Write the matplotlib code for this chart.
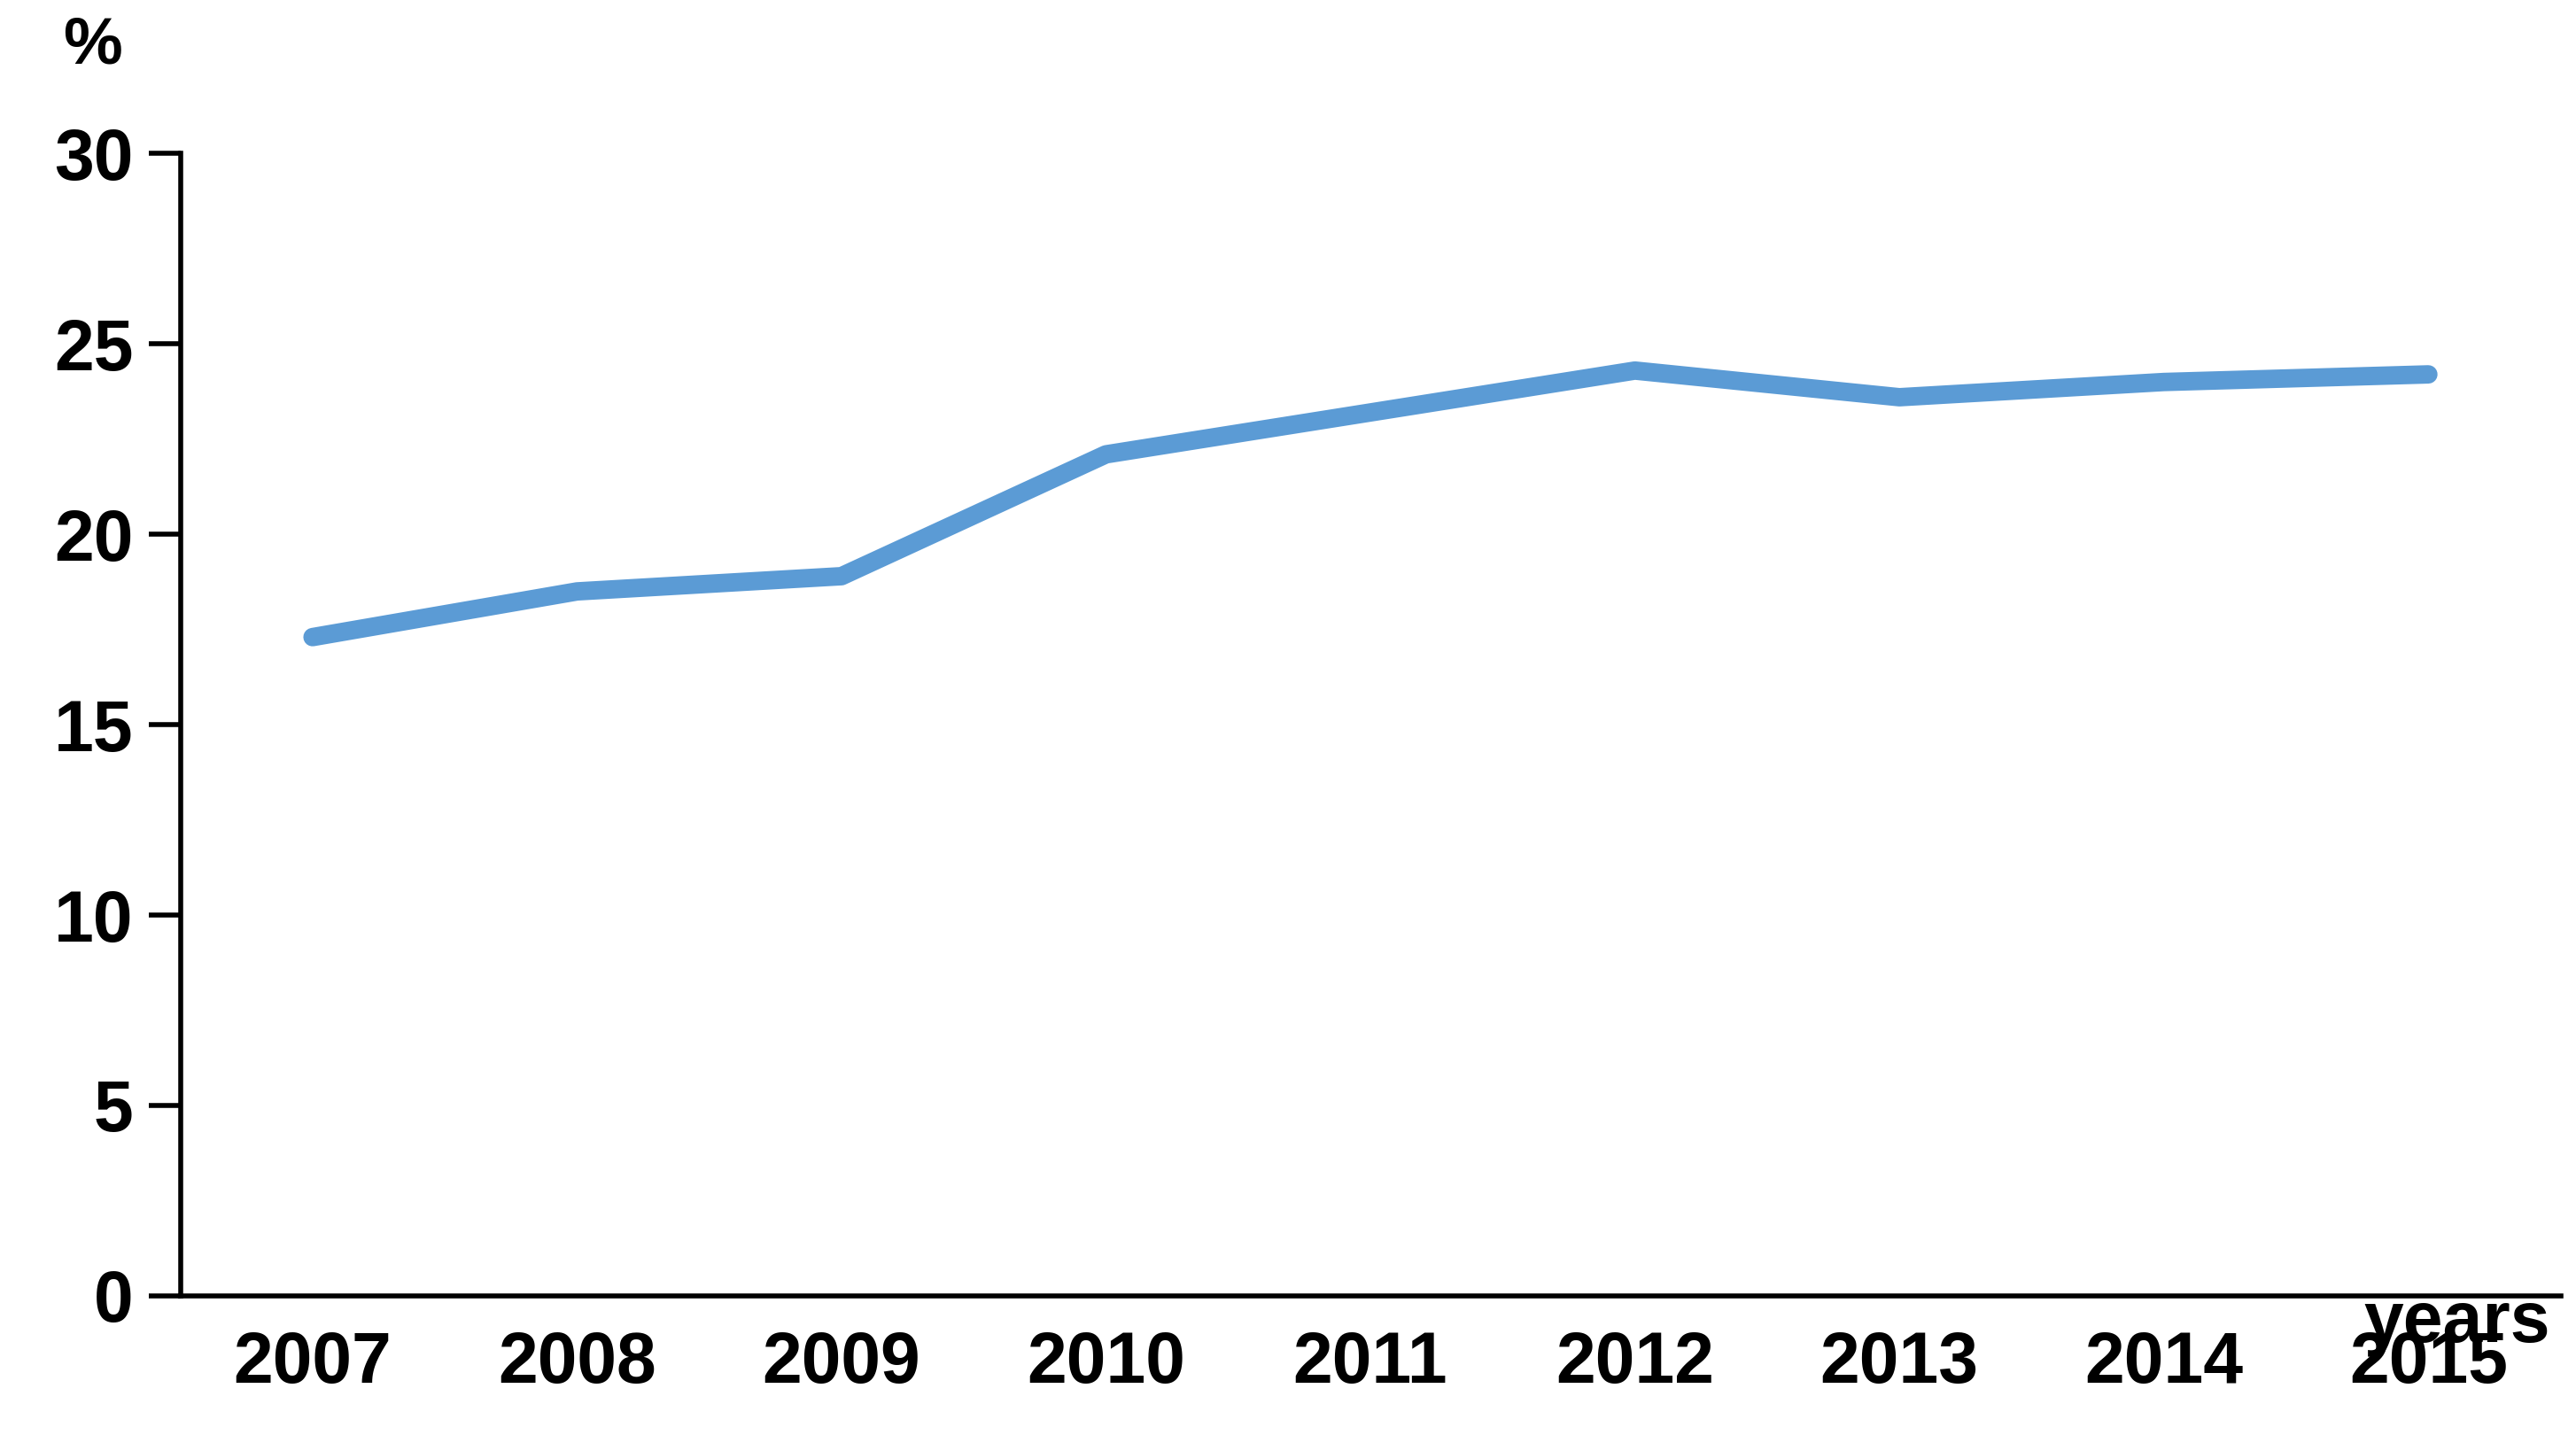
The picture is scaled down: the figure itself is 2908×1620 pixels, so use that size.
import matplotlib
matplotlib.use("Agg")
import matplotlib.pyplot as plt

years = ["2007", "2008", "2009", "2010", "2011", "2012", "2013", "2014", "2015"]
values = [17.3, 18.5, 18.9, 22.1, 23.2, 24.3, 23.6, 24.0, 24.2]
yticks = [0, 5, 10, 15, 20, 25, 30]

plt.rcParams['font.family'] = ['Liberation Sans', 'DejaVu Sans']
fig = plt.figure(figsize=(29.08, 16.2), dpi=100)
ax = fig.add_axes([0.070, 0.097, 0.924, 0.796])
x = list(range(len(years)))
ax.plot(x, values, color="#5B9BD5", lw=15, solid_capstyle="round", solid_joinstyle="round")
ax.set_xlim(-0.5, 8.5)
ax.set_ylim(0, 30)
ax.set_yticks(yticks)
ax.set_yticklabels([str(v) for v in yticks], fontsize=58, fontweight="heavy")
ax.set_xticks(x)
ax.set_xticklabels(years, fontsize=58, fontweight="heavy")
ax.tick_params(axis="x", length=0, pad=28)
ax.tick_params(axis="y", length=26, width=4, direction="out", pad=12)
for s in ["top", "right"]:
    ax.spines[s].set_visible(False)
for s in ["left", "bottom"]:
    ax.spines[s].set_linewidth(4)
fig.text(0.036, 0.968, "%", fontsize=54, fontweight="heavy", ha="center", va="center")
fig.text(0.99, 0.078, "years", fontsize=58, fontweight="heavy", ha="right", va="center")
fig.savefig("out.png")
